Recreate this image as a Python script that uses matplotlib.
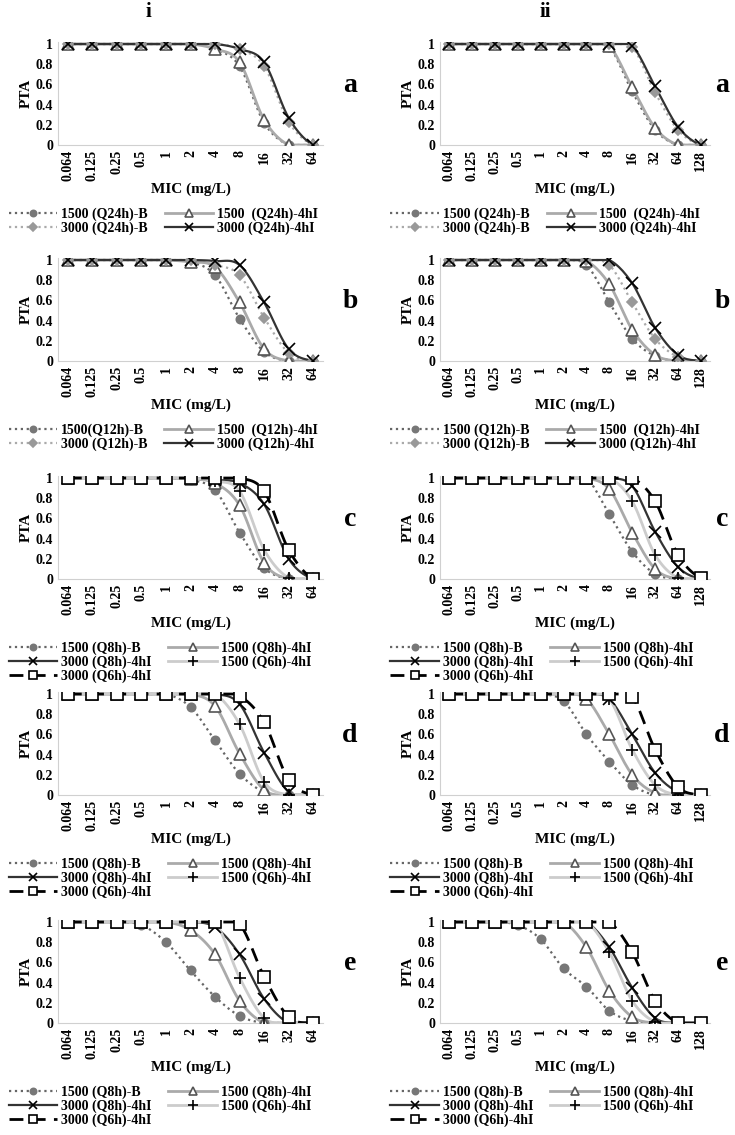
import numpy as np
import matplotlib
matplotlib.use('Agg')
import matplotlib.pyplot as plt
from matplotlib.lines import Line2D

plt.rcParams['font.family'] = 'Liberation Serif'
plt.rcParams['font.weight'] = 'bold'

mic_i = ['0.064', '0.125', '0.25', '0.5', '1', '2', '4', '8', '16', '32', '64']
mic_ii = mic_i + ['128']

# panel a
a_i = {
    '1500 (Q24h)-B':    [1, 1, 1, 1, 1, 1, 0.95, 0.78, 0.22, 0, 0],
    '1500  (Q24h)-4hI': [1, 1, 1, 1, 1, 1, 0.95, 0.82, 0.25, 0, 0],
    '3000 (Q24h)-B':    [1, 1, 1, 1, 1, 1, 1, 0.95, 0.78, 0.23, 0],
    '3000 (Q24h)-4hI':  [1, 1, 1, 1, 1, 1, 1, 0.95, 0.82, 0.27, 0],
}
a_ii = {
    '1500 (Q24h)-B':    [1, 1, 1, 1, 1, 1, 1, 0.97, 0.53, 0.15, 0, 0],
    '1500  (Q24h)-4hI': [1, 1, 1, 1, 1, 1, 1, 0.98, 0.57, 0.17, 0, 0],
    '3000 (Q24h)-B':    [1, 1, 1, 1, 1, 1, 1, 1, 0.97, 0.52, 0.15, 0],
    '3000 (Q24h)-4hI':  [1, 1, 1, 1, 1, 1, 1, 1, 0.98, 0.58, 0.18, 0],
}
# panel b
b_i = {
    '1500(Q12h)-B':     [1, 1, 1, 1, 1, 0.98, 0.85, 0.42, 0.09, 0, 0],
    '1500  (Q12h)-4hI': [1, 1, 1, 1, 1, 0.98, 0.93, 0.58, 0.12, 0, 0],
    '3000 (Q12h)-B':    [1, 1, 1, 1, 1, 1, 0.95, 0.85, 0.43, 0.08, 0],
    '3000 (Q12h)-4hI':  [1, 1, 1, 1, 1, 1, 0.99, 0.95, 0.58, 0.12, 0],
}
b_ii = {
    '1500 (Q12h)-B':    [1, 1, 1, 1, 1, 1, 0.95, 0.58, 0.22, 0.05, 0, 0],
    '1500  (Q12h)-4hI': [1, 1, 1, 1, 1, 1, 0.99, 0.76, 0.31, 0.06, 0, 0],
    '3000 (Q12h)-B':    [1, 1, 1, 1, 1, 1, 1, 0.95, 0.58, 0.22, 0.04, 0],
    '3000 (Q12h)-4hI':  [1, 1, 1, 1, 1, 1, 1, 1, 0.77, 0.33, 0.06, 0],
}
# panels c, d, e
c_i = {
    '1500 (Q8h)-B':   [1, 1, 1, 1, 1, 0.98, 0.88, 0.46, 0.11, 0, 0],
    '1500 (Q8h)-4hI': [1, 1, 1, 1, 1, 0.99, 0.95, 0.73, 0.16, 0, 0],
    '3000 (Q8h)-4hI': [1, 1, 1, 1, 1, 1, 0.98, 0.95, 0.74, 0.2, 0],
    '1500 (Q6h)-4hI': [1, 1, 1, 1, 1, 1, 0.97, 0.87, 0.29, 0.01, 0],
    '3000 (Q6h)-4hI': [1, 1, 1, 1, 1, 1, 1, 1, 0.87, 0.29, 0],
}
c_ii = {
    '1500 (Q8h)-B':   [1, 1, 1, 1, 1, 1, 1, 0.64, 0.27, 0.05, 0, 0],
    '1500 (Q8h)-4hI': [1, 1, 1, 1, 1, 1, 1, 0.89, 0.46, 0.1, 0, 0],
    '3000 (Q8h)-4hI': [1, 1, 1, 1, 1, 1, 1, 1, 0.92, 0.47, 0.12, 0],
    '1500 (Q6h)-4hI': [1, 1, 1, 1, 1, 1, 1, 1, 0.77, 0.24, 0.01, 0],
    '3000 (Q6h)-4hI': [1, 1, 1, 1, 1, 1, 1, 1, 1, 0.77, 0.24, 0.01],
}
d_i = {
    '1500 (Q8h)-B':   [1, 1, 1, 1, 1, 0.87, 0.54, 0.21, 0.03, 0, 0],
    '1500 (Q8h)-4hI': [1, 1, 1, 1, 1, 1, 0.88, 0.41, 0.05, 0, 0],
    '3000 (Q8h)-4hI': [1, 1, 1, 1, 1, 1, 1, 0.9, 0.42, 0.03, 0],
    '1500 (Q6h)-4hI': [1, 1, 1, 1, 1, 1, 1, 0.7, 0.13, 0, 0],
    '3000 (Q6h)-4hI': [1, 1, 1, 1, 1, 1, 1, 0.98, 0.72, 0.15, 0],
}
d_ii = {
    '1500 (Q8h)-B':   [1, 1, 1, 1, 1, 0.93, 0.6, 0.33, 0.1, 0, 0, 0],
    '1500 (Q8h)-4hI': [1, 1, 1, 1, 1, 1, 0.95, 0.6, 0.2, 0.02, 0, 0],
    '3000 (Q8h)-4hI': [1, 1, 1, 1, 1, 1, 1, 0.95, 0.6, 0.22, 0.03, 0],
    '1500 (Q6h)-4hI': [1, 1, 1, 1, 1, 1, 1, 0.95, 0.45, 0.1, 0, 0],
    '3000 (Q6h)-4hI': [1, 1, 1, 1, 1, 1, 1, 1, 0.97, 0.45, 0.08, 0],
}
e_i = {
    '1500 (Q8h)-B':   [1, 1, 1, 0.97, 0.8, 0.52, 0.26, 0.07, 0, 0, 0],
    '1500 (Q8h)-4hI': [1, 1, 1, 1, 1, 0.92, 0.68, 0.22, 0, 0, 0],
    '3000 (Q8h)-4hI': [1, 1, 1, 1, 1, 1, 0.95, 0.68, 0.24, 0, 0],
    '1500 (Q6h)-4hI': [1, 1, 1, 1, 1, 1, 1, 0.45, 0.05, 0, 0],
    '3000 (Q6h)-4hI': [1, 1, 1, 1, 1, 1, 1, 0.98, 0.46, 0.06, 0],
}
e_ii = {
    '1500 (Q8h)-B':   [1, 1, 1, 0.97, 0.83, 0.54, 0.36, 0.12, 0.02, 0, 0, 0],
    '1500 (Q8h)-4hI': [1, 1, 1, 1, 1, 1, 0.75, 0.32, 0.06, 0, 0, 0],
    '3000 (Q8h)-4hI': [1, 1, 1, 1, 1, 1, 1, 0.75, 0.35, 0.05, 0, 0],
    '1500 (Q6h)-4hI': [1, 1, 1, 1, 1, 1, 1, 0.7, 0.22, 0.01, 0, 0],
    '3000 (Q6h)-4hI': [1, 1, 1, 1, 1, 1, 1, 1, 0.7, 0.22, 0, 0],
}


def style_of(name):
    if '-B' in name and name.startswith('1500'):
        return dict(color='#666666', ls=':', lw=1.6, marker='o', mfc='#777777', mec='#777777', ms=6)
    if '-B' in name:
        return dict(color='#aaaaaa', ls=':', lw=1.6, marker='D', mfc='#999999', mec='#999999', ms=5)
    if 'Q6h' in name and name.startswith('1500'):
        return dict(color='#cccccc', ls='-', lw=2.0, marker='+', mfc='black', mec='black', ms=9)
    if 'Q6h' in name:
        return dict(color='black', ls=(0, (5, 3)), lw=2.0, marker='s', mfc='white', mec='black', ms=8)
    if name.startswith('1500'):
        return dict(color='#aaaaaa', ls='-', lw=2.0, marker='^', mfc='white', mec='#555555', ms=8)
    return dict(color='#333333', ls='-', lw=1.6, marker='x', mfc='black', mec='black', ms=8)


def smooth(y, n=12):
    # catmull-rom for a smoothed look, like the spreadsheet lines
    y = np.asarray(y, float)
    p = np.concatenate([[y[0]], y, [y[-1]]])
    xs, ys = [], []
    t = np.linspace(0, 1, n, endpoint=False)
    for i in range(len(y) - 1):
        p0, p1, p2, p3 = p[i], p[i + 1], p[i + 2], p[i + 3]
        yy = 0.5 * (2 * p1 + (-p0 + p2) * t + (2 * p0 - 5 * p1 + 4 * p2 - p3) * t**2
                    + (-p0 + 3 * p1 - 3 * p2 + p3) * t**3)
        xs.append(i + t)
        ys.append(yy)
    xs.append([len(y) - 1])
    ys.append([y[-1]])
    return np.concatenate(xs), np.clip(np.concatenate(ys), 0, 1)


W, H = 735, 1135
fig = plt.figure(figsize=(W / 100, H / 100), dpi=100)


def panel(series, cats, left, top, width, height, letter, letter_x):
    ax = fig.add_axes([left / W, 1 - (top + height) / H, width / W, height / H])
    x = np.arange(len(cats))
    handles = []
    for name, vals in series.items():
        s = style_of(name)
        sx, sy = smooth(vals)
        ax.plot(sx, sy, color=s['color'], ls=s['ls'], lw=s['lw'], zorder=2)
        ax.plot(x, vals, ls='none', marker=s['marker'], mfc=s['mfc'], mec=s['mec'],
                ms=s['ms'], mew=1.2, zorder=3)
        handles.append(Line2D([], [], color=s['color'], ls=s['ls'], lw=s['lw'], marker=s['marker'],
                              mfc=s['mfc'], mec=s['mec'], ms=s['ms'] * 0.75, mew=1.2, label=name))
    ax.set_xlim(-0.4, len(cats) - 0.6)
    ax.set_ylim(0, 1.02)
    ax.set_yticks([0, 0.2, 0.4, 0.6, 0.8, 1])
    ax.set_yticklabels(['0', '0.2', '0.4', '0.6', '0.8', '1'], fontsize=10, fontweight='bold')
    ax.set_xticks(x)
    ax.set_xticklabels(cats, rotation=90, fontsize=10, fontweight='bold')
    ax.tick_params(length=0)
    for sp in ['top', 'right']:
        ax.spines[sp].set_visible(False)
    for sp in ['left', 'bottom']:
        ax.spines[sp].set_color('#d0d0d0')
    ax.set_ylabel('PTA', fontsize=11, fontweight='bold', labelpad=2)
    ax.set_xlabel('MIC (mg/L)', fontsize=11, fontweight='bold', labelpad=1)
    # legend filled row by row as in the original
    order = [0, 2, 1, 3] if len(handles) == 4 else [0, 2, 4, 1, 3]
    hh = [handles[i] for i in order]
    fig.legend(handles=hh, ncol=2, frameon=False, handlelength=3.5,
               loc='upper left', columnspacing=1.2, labelspacing=0.05, handletextpad=0.3,
               bbox_to_anchor=((left - 62) / W, 1 - (top + height + 50) / H),
               prop={'weight': 'bold', 'size': 10})
    fig.text(letter_x / W, 1 - (top + height * 0.42) / H, letter, fontsize=20,
             fontweight='bold', ha='center', va='center')
    return ax


rows = [(a_i, a_ii, 'a', 42), (b_i, b_ii, 'b', 258), (c_i, c_ii, 'c', 476),
        (d_i, d_ii, 'd', 692), (e_i, e_ii, 'e', 920)]
for si, sii, letter, top in rows:
    panel(si, mic_i, 58, top, 265, 103, letter, 350)
    panel(sii, mic_ii, 440, top, 270, 103, letter, 722)

fig.text(148 / W, 1 - 12 / H, 'i', fontsize=15, fontweight='bold', ha='center', va='center')
fig.text(545 / W, 1 - 12 / H, 'ii', fontsize=15, fontweight='bold', ha='center', va='center')

plt.savefig('out.png', dpi=100)
